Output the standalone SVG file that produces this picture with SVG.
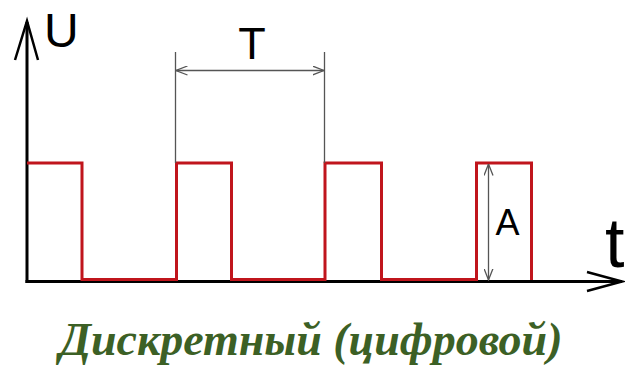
<svg xmlns="http://www.w3.org/2000/svg" width="625" height="368" viewBox="0 0 625 368">
  <style>
    .axis { fill: none; stroke: #000; stroke-width: 3; }
    .axis-head { fill: none; stroke: #000; stroke-width: 2.5; stroke-linejoin: miter; }
    .signal { fill: none; stroke: #c0151c; stroke-width: 3; stroke-linejoin: miter; }
    .dim { fill: none; stroke: #555; stroke-width: 1.3; }
    .label { font-family: "Liberation Sans", Arial, sans-serif; fill: #000; }
    .caption { font-family: "Liberation Serif", "Times New Roman", serif; font-style: italic; font-weight: bold; fill: #3c6025; }
  </style>
  <defs>
    <marker id="dimArrow" viewBox="0 0 12 10" refX="11.5" refY="5" markerWidth="12" markerHeight="10" markerUnits="userSpaceOnUse" orient="auto-start-reverse">
      <path d="M0,0.5 L11.5,5 L0,9.5" fill="none" stroke="#555" stroke-width="1.3"/>
    </marker>
  </defs>

  <!-- coordinate axes -->
  <g id="axes">
    <line class="axis" x1="27" y1="22" x2="27" y2="283"/>
    <line class="axis" x1="25.5" y1="281.5" x2="622" y2="281.5"/>
    <path class="axis-head" d="M15,60 L27,21 L38,60"/>
    <path class="axis-head" d="M587,272 L622,281.5 L587,291"/>
    <text class="label" x="44" y="47" font-size="48">U</text>
    <text class="label" x="605" y="267" font-size="70">t</text>
  </g>

  <!-- pulse train -->
  <g id="signal">
    <path class="signal" d="M27,163 H82 V279.5 H176.5 V163 H231.5 V279.5 H325 V163 H381.5 V279.5 H476.5 V163 H531.5 V280"/>
  </g>

  <!-- dimensions: period T and amplitude A -->
  <g id="connectors">
    <line class="dim" x1="175.5" y1="52" x2="175.5" y2="163"/>
    <line class="dim" x1="324.5" y1="52" x2="324.5" y2="163"/>
    <line class="dim" x1="176" y1="70.5" x2="324" y2="70.5" marker-start="url(#dimArrow)" marker-end="url(#dimArrow)"/>
    <line class="dim" x1="488.5" y1="164" x2="488.5" y2="280" marker-start="url(#dimArrow)" marker-end="url(#dimArrow)"/>
  </g>

  <g id="label-T">
    <text class="label" x="252" y="59" font-size="45" text-anchor="middle">T</text>
  </g>
  <g id="label-A">
    <text class="label" x="507.5" y="235" font-size="36" text-anchor="middle">A</text>
  </g>

  <g id="caption">
    <text class="caption" x="311" y="355" font-size="46" text-anchor="middle" textLength="503" lengthAdjust="spacingAndGlyphs">Дискретный (цифровой)</text>
  </g>
</svg>
